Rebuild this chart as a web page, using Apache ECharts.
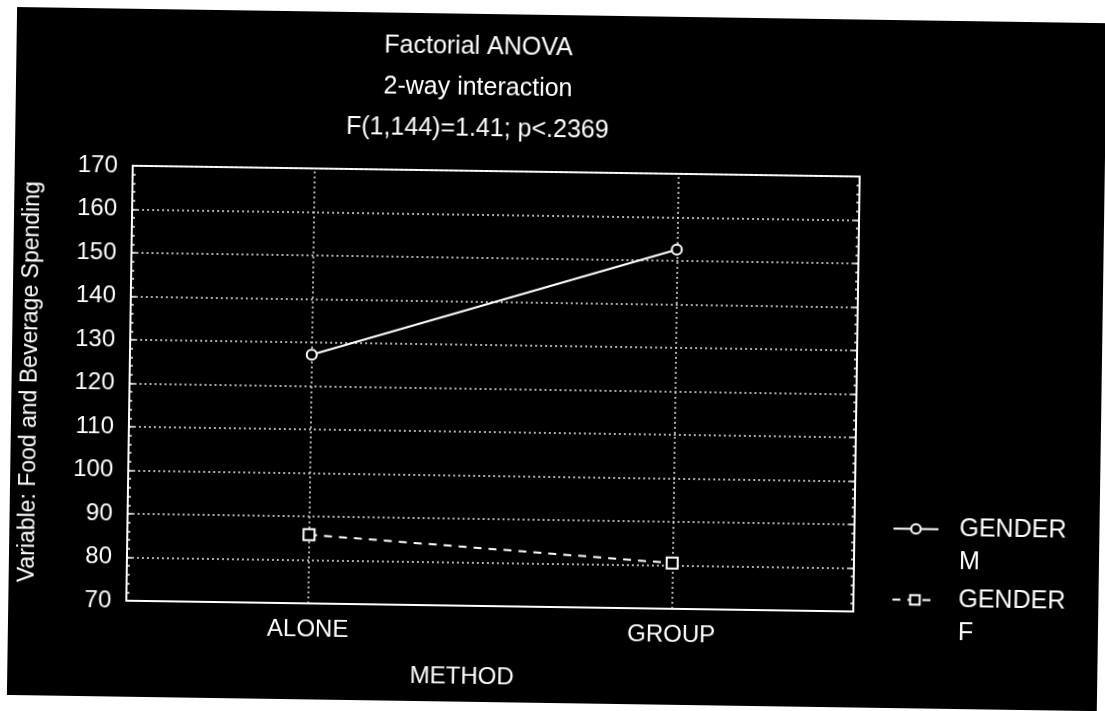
<!DOCTYPE html>
<html>
<head>
<meta charset="utf-8">
<script src="https://cdn.jsdelivr.net/npm/echarts@6/dist/echarts.min.js"></script>
<style>
  html, body { margin: 0; padding: 0; background: #ffffff; overflow: hidden; }
  #chart { width: 1105px; height: 711px; transform: rotate(0.85deg); transform-origin: 552px 355px; }
</style>
</head>
<body>
<div id="chart"></div>
<script>
// ---- data ----
const categories = ['ALONE', 'GROUP'];
const genderM = [127.2, 152.6];
const genderF = [85.8, 80.5];
const seriesNames = ['M', 'F'];
const yMin = 70;
const yMax = 170;
const yInterval = 10;
const titleLines = ['Factorial ANOVA', '2-way interaction', 'F(1,144)=1.41; p<.2369'];
const yAxisTitle = 'Variable: Food and Beverage Spending';
const xAxisTitle = 'METHOD';
const legendPrefix = 'GENDER';

// ---- chart ----
const FONT = '"Liberation Sans", Arial, sans-serif';
const chart = echarts.init(document.getElementById('chart'), null, { renderer: 'canvas' });

const gridLine = { color: '#e6e6e6', width: 1.5, type: [2, 3] };

const option = {
  animation: false,
  backgroundColor: 'transparent',
  textStyle: { fontFamily: FONT },
  graphic: [
    { type: 'rect', silent: true, z: -10, shape: { x: 12, y: 15, width: 1090, height: 688 }, style: { fill: '#000000' } },
    { type: 'text', silent: true, x: 474, y: 28,
      style: { text: titleLines.join('\n'), fill: '#ffffff', fontSize: 25, fontFamily: FONT, align: 'center', verticalAlign: 'top', lineHeight: 41 } }
  ],
  grid: { left: 130, top: 172, right: 248, bottom: 104, show: true, borderColor: '#ffffff', borderWidth: 2, backgroundColor: 'transparent' },
  legend: {
    orient: 'vertical', left: 895, top: 474, padding: 0,
    itemWidth: 45, itemHeight: 12, itemGap: -28,
    selectedMode: false,
    data: seriesNames,
    formatter: function (n) { return '\n' + legendPrefix + '\n' + n; },
    textStyle: { color: '#ffffff', fontSize: 25, fontFamily: FONT, lineHeight: 33, padding: [0, 0, 0, 16] }
  },
  xAxis: {
    type: 'category', data: categories, boundaryGap: true,
    axisLine: { show: true, lineStyle: { color: '#ffffff', width: 2 } },
    axisTick: { show: false },
    splitLine: { show: false },
    axisLabel: { color: '#ffffff', fontSize: 24, fontFamily: FONT, margin: 14 },
    name: xAxisTitle, nameLocation: 'middle', nameGap: 59,
    nameTextStyle: { color: '#ffffff', fontSize: 24, fontFamily: FONT, padding: [0, 54, 0, 0] }
  },
  yAxis: [
    {
      type: 'value', min: yMin, max: yMax, interval: yInterval, position: 'left',
      axisLine: { show: true, lineStyle: { color: '#ffffff', width: 2 } },
      axisTick: { show: true, inside: true, length: 5, lineStyle: { color: '#ffffff', width: 1.5 } },
      minorTick: { show: true, splitNumber: 5, length: 3, lineStyle: { color: '#ffffff', width: 1.5 } },
      splitLine: { show: true, lineStyle: gridLine },
      axisLabel: { color: '#ffffff', fontSize: 24, fontFamily: FONT, margin: 15 },
      name: yAxisTitle, nameLocation: 'middle', nameGap: 88,
      nameTextStyle: { color: '#ffffff', fontSize: 23, fontFamily: FONT }
    },
    {
      type: 'value', min: yMin, max: yMax, interval: yInterval, position: 'right',
      axisLine: { show: true, lineStyle: { color: '#ffffff', width: 2 } },
      axisTick: { show: true, inside: true, length: 5, lineStyle: { color: '#ffffff', width: 1.5 } },
      minorTick: { show: true, splitNumber: 5, length: 3, lineStyle: { color: '#ffffff', width: 1.5 } },
      splitLine: { show: false },
      axisLabel: { show: false }
    }
  ],
  series: [
    {
      name: seriesNames[0], type: 'line', data: genderM, z: 5,
      symbol: 'circle', symbolSize: 10,
      lineStyle: { color: '#ffffff', width: 2, type: 'solid' },
      itemStyle: { color: '#000000', borderColor: '#ffffff', borderWidth: 2 },
      emphasis: { disabled: true },
      markLine: {
        silent: true, symbol: 'none', label: { show: false }, z: 1,
        lineStyle: gridLine,
        emphasis: { disabled: true },
        data: categories.map(function (c) { return { xAxis: c }; })
      }
    },
    {
      name: seriesNames[1], type: 'line', data: genderF, z: 5,
      symbol: 'rect', symbolSize: 11,
      lineStyle: { color: '#ffffff', width: 2, type: [8, 7] },
      itemStyle: { color: '#000000', borderColor: '#ffffff', borderWidth: 2 },
      emphasis: { disabled: true }
    }
  ]
};
chart.setOption(option);
</script>
</body>
</html>
